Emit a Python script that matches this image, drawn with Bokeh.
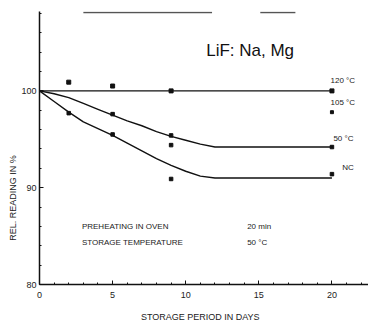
from bokeh.plotting import figure
from bokeh.models import FixedTicker, Range1d, ColumnDataSource
from bokeh.core.properties import value
from bokeh.embed import file_html
from bokeh.resources import INLINE

# ---- data ----
days = [0, 1, 2, 3, 4, 5, 6, 7, 8, 9, 10, 11, 12, 20]
curve_50c = [100, 99.7, 99.3, 98.7, 98.1, 97.5, 96.9, 96.4, 95.8, 95.3, 94.9, 94.5, 94.2, 94.2]
curve_nc = [100, 98.9, 97.8, 96.8, 96.1, 95.4, 94.6, 93.8, 93.0, 92.3, 91.7, 91.2, 91.0, 91.0]
curve_120_days = [0, 20]
curve_120 = [100, 100]

pts_120_days = [2, 5, 9, 20]
pts_120 = [100.9, 100.5, 100.0, 100.0]
pts_105_days = [20]
pts_105 = [97.8]
pts_50_days = [5, 9, 9, 20]
pts_50 = [97.6, 95.4, 94.4, 94.2]
pts_nc_days = [2, 5, 9, 20]
pts_nc = [97.7, 95.5, 90.9, 91.4]

x_major = [0, 5, 10, 15, 20]
x_minor = list(range(0, 23))
y_major = [80, 90, 100]
y_minor = list(range(80, 109, 2))

series_labels = ["120 \u00b0C", "105 \u00b0C", "50 \u00b0C", "NC"]
series_label_x = [19.9, 19.9, 20.1, 20.7]
series_label_y = [101.1, 98.8, 95.1, 92.1]

top_rule_x = [[3.0, 11.8], [15.1, 17.5]]
top_rule_y = [[108.1, 108.1], [108.1, 108.1]]

FONT = "Liberation Sans"
INK = "#111111"
GREY_TEXT = "#222222"

p = figure(frame_width=329, frame_height=273, output_backend="svg", toolbar_location=None,
           x_range=Range1d(0, 22.5), y_range=Range1d(80, 108.2),
           min_border_left=39, min_border_right=0, min_border_top=11, min_border_bottom=40)
p.outline_line_color = None
p.xgrid.visible = False
p.ygrid.visible = False
p.background_fill_color = "white"

for ax, maj, mnr in ((p.xaxis[0], x_major, x_minor), (p.yaxis[0], y_major, y_minor)):
    ax.ticker = FixedTicker(ticks=maj, minor_ticks=mnr)
    ax.axis_line_color = INK
    ax.axis_line_width = 1.5
    ax.major_tick_in = 4
    ax.major_tick_out = 0
    ax.minor_tick_in = 2
    ax.minor_tick_out = 0
    ax.major_tick_line_color = INK
    ax.minor_tick_line_color = INK
    ax.major_label_text_font = FONT
    ax.major_label_text_font_size = "9px"
    ax.major_label_text_color = GREY_TEXT
    ax.axis_label_text_font = FONT
    ax.axis_label_text_font_size = "9px"
    ax.axis_label_text_font_style = "normal"
    ax.axis_label_text_color = GREY_TEXT

p.xaxis.major_label_standoff = 7
p.yaxis.major_label_standoff = 3
p.xaxis.axis_label = "STORAGE  PERIOD  IN  DAYS"
p.xaxis.axis_label_standoff = 11
# trailing no-break spaces push the rotated label's centre down, as in the reference
p.yaxis.axis_label = "REL.  READING  IN  %" + "\u00a0" * 37
p.yaxis.axis_label_standoff = 0

# curves
p.line(curve_120_days, curve_120, line_color=INK, line_width=1.4)
p.line(days, curve_50c, line_color=INK, line_width=1.4)
p.line(days, curve_nc, line_color=INK, line_width=1.4)

# data point markers
p.scatter(pts_120_days, pts_120, marker="square", size=4, color=INK)
p.scatter(pts_105_days, pts_105, marker="square", size=3, color=INK)
p.scatter(pts_50_days, pts_50, marker="square", size=3.5, color=INK)
p.scatter(pts_nc_days, pts_nc, marker="square", size=3.5, color=INK)

# top rule (partial frame line)
p.multi_line(top_rule_x, top_rule_y, line_color="#555555", line_width=1.5)

# series labels
src = ColumnDataSource(dict(x=series_label_x, y=series_label_y, t=series_labels))
p.text(x="x", y="y", text="t", source=src, text_font=value(FONT), text_font_size="8px",
       text_color=GREY_TEXT, text_baseline="middle", text_align="left")

# title inside plot
p.text(x=[11.4], y=[104.2], text=["LiF: Na, Mg"], text_font=value(FONT), text_font_size="17px",
       text_color=INK, text_baseline="middle", text_align="left")

# conditions
p.text(x=[2.9, 2.9], y=[86.0, 84.3],
       text=["PREHEATING   IN   OVEN", "STORAGE   TEMPERATURE"],
       text_font=value(FONT), text_font_size="8px", text_color=GREY_TEXT,
       text_baseline="middle", text_align="left")
p.text(x=[14.2, 14.2], y=[86.0, 84.3], text=["20 min", "50 \u00b0C"],
       text_font=value(FONT), text_font_size="8px", text_color=GREY_TEXT,
       text_baseline="middle", text_align="left")

open("out.html", "w").write(file_html(p, INLINE))
